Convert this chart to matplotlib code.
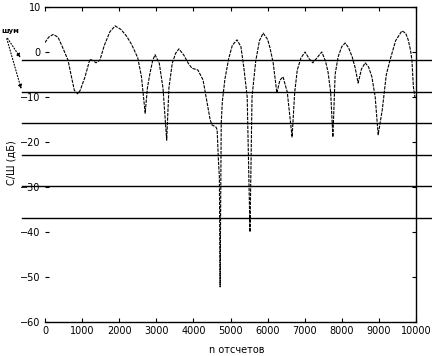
import matplotlib
matplotlib.use("Agg")
import matplotlib.pyplot as plt

# trace: sample number -> S/N in dB
n_samples = [
    0, 100, 220, 350, 450, 620, 700, 790, 880, 950, 1080, 1210, 1290, 1375, 1480,
    1600, 1750, 1890, 2050, 2200, 2340, 2500, 2600, 2700, 2760, 2830, 2900, 2965,
    3080, 3180, 3280, 3340, 3430, 3520, 3610, 3750, 3860, 3960, 4120, 4260, 4450,
    4500, 4610, 4640, 4670, 4700, 4720, 4750, 4780, 4850, 4950, 5050, 5175, 5280,
    5360, 5450, 5525, 5580, 5680, 5780, 5880, 6000, 6065, 6150, 6250, 6330, 6415,
    6530, 6660, 6730, 6800, 6900, 7010, 7120, 7220, 7340, 7460, 7560, 7630, 7700,
    7760, 7820, 7900, 8000, 8090, 8180, 8280, 8360, 8440, 8530, 8630, 8720, 8810,
    8900, 8980, 9090, 9200, 9300, 9450, 9620, 9720, 9790, 9850, 9890, 9930, 9970,
]
snr_db = [
    2.1, 3.3, 3.9, 3.3, 1.5, -1.8, -5.0, -8.5, -9.3, -8.5, -5.5, -1.6, -1.9, -2.4, -1.8,
    1.5, 4.5, 5.8, 5.0, 3.5, 1.6, -1.3, -5.5, -13.6, -8.0, -4.7, -2.0, -0.6,
    -2.5, -8.0, -19.6, -8.0, -2.5, -0.3, 0.7, -0.8, -2.5, -3.6, -4.0, -6.2, -15.0,
    -16.2, -16.7, -17.3, -23.3, -27.8, -52.2, -15.8, -11.0, -6.0, -1.5, 1.5, 2.7, 1.2,
    -3.5, -10.0, -40.0, -10.0, -2.0, 2.5, 4.2, 2.8, 0.9, -2.4, -9.1, -6.3, -5.5,
    -8.9, -18.9, -9.0, -4.0, -1.3, 0.0, -1.5, -2.4, -1.2, 0.0, -2.0, -4.5, -9.0,
    -18.9, -5.0, -1.1, 1.2, 2.0, 1.0, -1.1, -3.5, -6.9, -3.8, -2.4, -3.3, -5.5,
    -10.0, -18.4, -12.9, -5.0, -1.8, 2.5, 4.7, 4.2, 2.7, 0.5, -1.8, -7.8, -10.0,
]

# threshold levels drawn across the plot
levels_db = [-1.8, -8.8, -15.8, -22.8, -29.8, -36.8]

x_ticks = [0, 1000, 2000, 3000, 4000, 5000, 6000, 7000, 8000, 9000, 10000]
y_ticks = [10, 0, -10, -20, -30, -40, -50, -60]

fig = plt.figure(figsize=(4.32, 3.56), dpi=100)
ax = fig.add_axes([45 / 432, 1 - 322 / 356, (416 - 45) / 432, (322 - 7) / 356])

ax.plot(n_samples, snr_db, color="black", lw=0.8, linestyle=(0, (3, 1)))

ax.set_xlim(0, 10000)
ax.set_ylim(-60, 10)

# level lines stick out past the frame on both sides
x_lo = -23 / 371 * 10000
x_hi = 10000 + 16 / 371 * 10000
for lev in levels_db:
    ax.plot([x_lo, x_hi], [lev, lev], color="black", lw=1.0, clip_on=False)

ax.set_xticks(x_ticks)
ax.set_yticks(y_ticks)
ax.tick_params(direction="in", length=3, width=0.8, labelsize=7,
               top=True, right=True, pad=3)
ax.spines["left"].set_visible(False)
for side in ["top", "right", "bottom"]:
    ax.spines[side].set_linewidth(1.0)

fig.text(12 / 432, 1 - 163 / 356, "С/Ш (дБ)", rotation=90, fontsize=7,
         ha="center", va="center")
fig.text(237 / 432, 1 - 350 / 356, "n отсчетов", fontsize=7,
         ha="center", va="center")

# note with dotted arrows pointing at the first two levels
fig.text(1 / 432, 1 - 31 / 356, "шум", fontsize=5, fontweight="bold",
         ha="left", va="center")
for lev in levels_db[:2]:
    ax.annotate("", xy=(x_lo, lev), xycoords="data",
                xytext=(6 / 432, 1 - 36 / 356), textcoords="figure fraction",
                arrowprops=dict(arrowstyle="-|>", linestyle=":", lw=0.8,
                                color="black", mutation_scale=6),
                annotation_clip=False)

fig.savefig("out.png", dpi=100)
